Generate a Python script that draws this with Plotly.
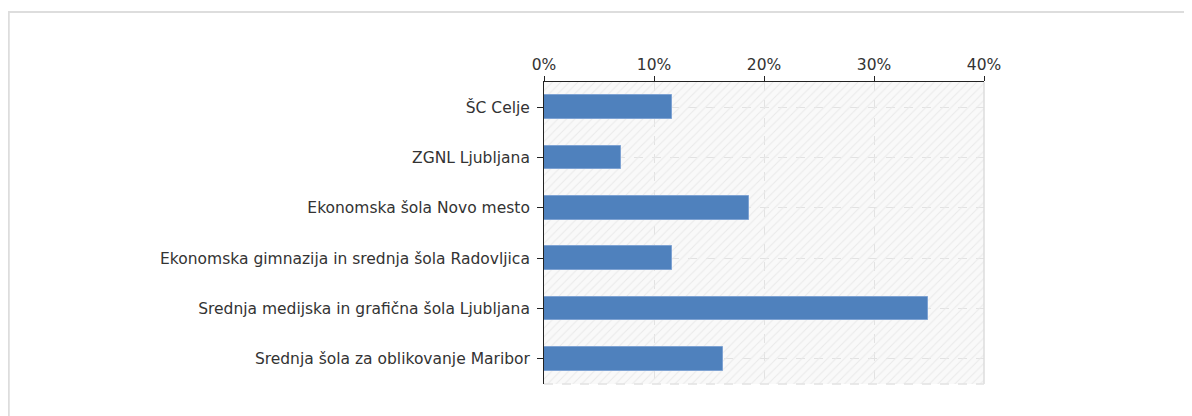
import plotly.graph_objects as go

categories = [
    "ŠC Celje",
    "ZGNL Ljubljana",
    "Ekonomska šola Novo mesto",
    "Ekonomska gimnazija in srednja šola Radovljica",
    "Srednja medijska in grafična šola Ljubljana",
    "Srednja šola za oblikovanje Maribor",
]
values = [11.6, 7.0, 18.6, 11.6, 34.9, 16.3]
tick_vals = [0, 10, 20, 30, 40]
tick_text = ["0%", "10%", "20%", "30%", "40%"]

X_MAX = 40
OFF = 8  # page body margin
W, H = 1192, 416
PL, PT, PW, PH = 544, 82, 440, 302  # target plot area on screen
L = PL - OFF
T = PT - OFF
R = W - L - PW
B = H - T - PH


def sx(px):  # screen px -> paper x
    return (px - PL) / PW


def sy(py):  # screen px -> paper y
    return (PT + PH - py) / PH


FONT = "DejaVu Sans"

fig = go.Figure()

# hatched plot-area background
fig.add_trace(go.Bar(
    y=categories, x=[X_MAX] * len(categories), orientation="h", width=1,
    marker=dict(color="rgba(0,0,0,0)", line=dict(width=0),
                pattern=dict(shape="/", fgcolor="#eaeaea", bgcolor="rgba(0,0,0,0)",
                             size=6, solidity=0.18, fillmode="replace")),
    hoverinfo="skip", showlegend=False,
))

fig.add_trace(go.Bar(
    y=categories, x=values, orientation="h", width=0.47,
    marker=dict(color="#4f81bd", line=dict(color="#7fa3d3", width=1)),
    showlegend=False,
    hovertemplate="%{y}: %{x:.1f}%<extra></extra>",
))

fig.update_layout(
    width=W, height=H,
    margin=dict(l=L, r=R, t=T, b=B, pad=0),
    paper_bgcolor="white",
    plot_bgcolor="#f9f9f9",
    barmode="overlay",
    bargap=0,
    font=dict(family=FONT, size=15.5, color="#333333"),
    xaxis=dict(
        side="top", range=[0, X_MAX], tickvals=tick_vals, ticktext=tick_text,
        showline=True, linecolor="#222222", linewidth=1,
        ticks="outside", ticklen=5, tickcolor="#222222",
        showgrid=True, gridcolor="#e2e2e2", griddash="dash", gridwidth=1,
        zeroline=False, fixedrange=True,
    ),
    yaxis=dict(
        categoryorder="array", categoryarray=categories, autorange="reversed",
        showline=True, linecolor="#222222", linewidth=1,
        ticks="outside", ticklen=6, tickcolor="#222222",
        showgrid=True, gridcolor="#e2e2e2", griddash="dash", gridwidth=1,
        zeroline=False, fixedrange=True, ticklabelstandoff=4,
    ),
    shapes=[
        # outer frame
        dict(type="rect", xref="paper", yref="paper",
             x0=sx(OFF + 0.75), x1=sx(1240),
             y0=sy(470), y1=sy(12),
             line=dict(color="#dddddd", width=2), fillcolor="rgba(0,0,0,0)", layer="below"),
        # right border of plot area
        dict(type="line", xref="paper", yref="paper", x0=1, x1=1, y0=0, y1=1,
             line=dict(color="#dcdcdc", width=1.5), layer="above"),
        # bottom dashed border of plot area
        dict(type="line", xref="paper", yref="paper", x0=0, x1=1, y0=0, y1=0,
             line=dict(color="#e2e2e2", width=1.5, dash="dash"), layer="above"),
    ],
)

fig.write_html("out.html")
